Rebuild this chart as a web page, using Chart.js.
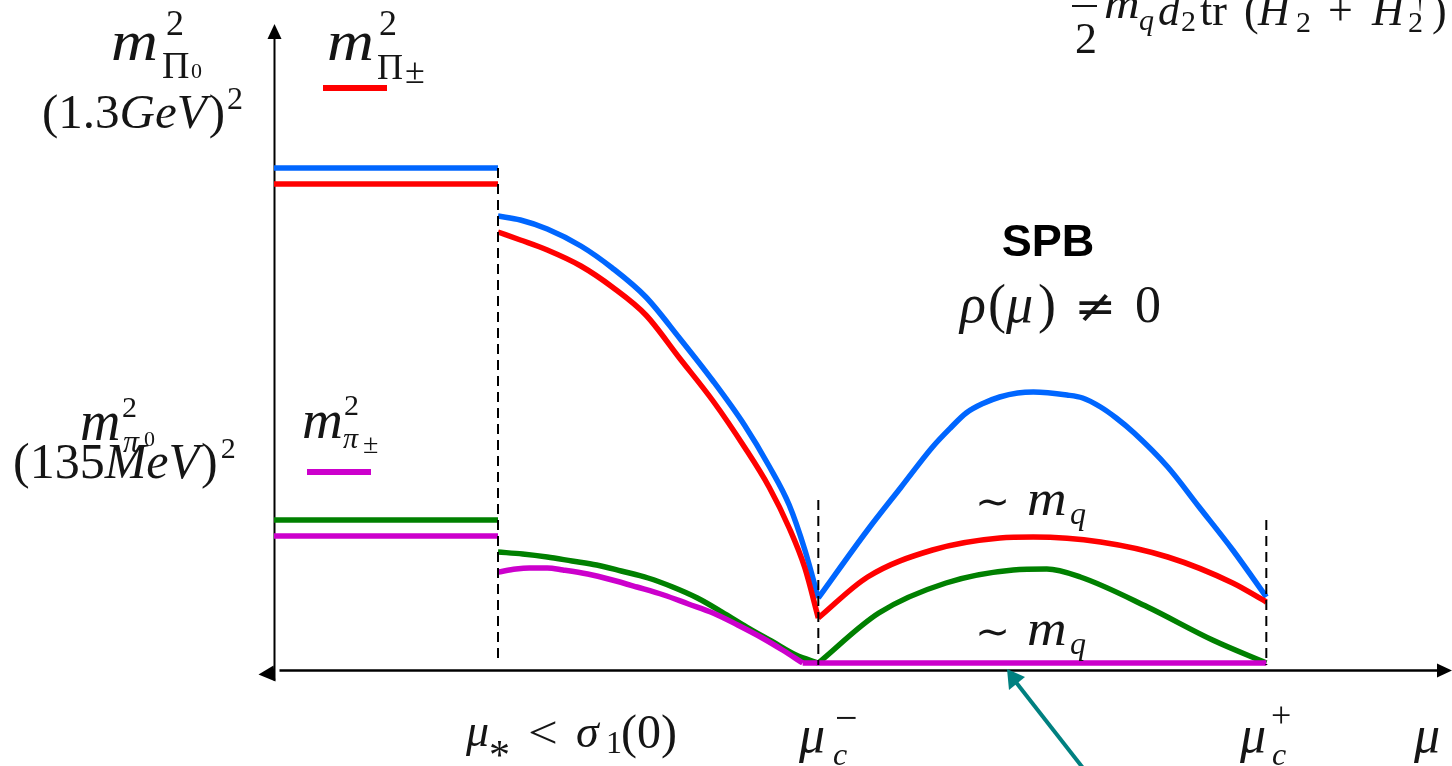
<!DOCTYPE html>
<html>
<head>
<meta charset="utf-8">
<script src="https://cdn.jsdelivr.net/npm/chart.js@4.4.1/dist/chart.umd.min.js"></script>
<style>
  html, body { margin: 0; padding: 0; background: #fff; }
  canvas { display: block; }
</style>
</head>
<body>
<canvas id="c" width="1452" height="766"></canvas>
<script>
// 質量譜示意圖：mu 軸上的分段曲線
// x 單位：mu_* = 1；y 單位：任意 (m^2)

var muStar = 1.0, muCm = 2.43, muCp = 4.43;

// 區段一：mu < mu_* 的平台
var flatX = [0, muStar];
var blueFlatY = 4.95, redFlatY = 4.79, greenFlatY = 1.43, magentaFlatY = 1.27;

// 區段二：mu_* ~ mu_c^-
var midX = [1.00, 1.10, 1.22, 1.37, 1.51, 1.66, 1.81, 1.96, 2.10, 2.21, 2.30, 2.37, 2.43];
var blueMidY = [4.47, 4.43, 4.34, 4.17, 3.95, 3.66, 3.25, 2.82, 2.38, 1.97, 1.58, 1.13, 0.65];
var redMidY = [4.31, 4.23, 4.13, 3.97, 3.76, 3.48, 3.05, 2.62, 2.16, 1.76, 1.35, 0.95, 0.45];
var greenMidX = [1.00, 1.11, 1.22, 1.33, 1.44, 1.55, 1.67, 1.78, 1.89, 2.00, 2.11, 2.22, 2.33, 2.43];
var greenMidY = [1.11, 1.09, 1.06, 1.02, 0.98, 0.92, 0.85, 0.76, 0.65, 0.51, 0.36, 0.22, 0.08, 0.00];
var magentaMidX = [1.00, 1.08, 1.14, 1.22, 1.29, 1.40, 1.51, 1.62, 1.74, 1.85, 1.96, 2.07, 2.18, 2.27, 2.36];
var magentaMidY = [0.91, 0.94, 0.95, 0.95, 0.93, 0.89, 0.83, 0.76, 0.68, 0.59, 0.50, 0.38, 0.25, 0.13, 0.00];

// 區段三：mu_c^- ~ mu_c^+ (SPB)
var blueSpbX = [2.43, 2.65, 2.80, 2.94, 3.02, 3.09, 3.17, 3.24, 3.32, 3.39, 3.54, 3.61, 3.69, 3.76, 3.84, 3.99, 4.13, 4.28, 4.43];
var blueSpbY = [0.65, 1.33, 1.76, 2.16, 2.35, 2.50, 2.60, 2.66, 2.70, 2.71, 2.68, 2.65, 2.56, 2.45, 2.30, 1.96, 1.56, 1.13, 0.66];
var redSpbX = [2.43, 2.65, 2.94, 3.24, 3.39, 3.69, 3.99, 4.28, 4.43];
var redSpbY = [0.45, 0.86, 1.13, 1.25, 1.26, 1.21, 1.06, 0.80, 0.61];
var greenSpbX = [2.43, 2.70, 3.00, 3.30, 3.45, 3.60, 3.90, 4.19, 4.43];
var greenSpbY = [0.00, 0.50, 0.80, 0.93, 0.94, 0.86, 0.56, 0.23, 0.00];
var magentaSpbX = [2.36, 4.43];
var magentaSpbY = [0.00, 0.00];

// 虛線分界
var dashX = [muStar, muCm, muCp];
var dashTop = [4.95, 1.63, 1.43];
var dashBottom = [0.05, -0.02, -0.02];

var BLUE = '#0066ff', RED = '#ff0000', GREEN = '#008000', MAGENTA = '#cc00cc', TEAL = '#008080';
var INK = '#151515';
var SERIF = "'Liberation Serif', 'DejaVu Serif', serif";
var SANS = "'Liberation Sans', Arial, sans-serif";
var DJ = "'DejaVu Sans', sans-serif";

function zip(xs, ys) {
  return xs.map(function(x, i) { return { x: x, y: ys[i] }; });
}
function flat(y) {
  return flatX.map(function(x) { return { x: x, y: y }; });
}

function seg(data, color, order, curved) {
  return {
    data: data,
    borderColor: color,
    borderWidth: 5.5,
    pointRadius: 0,
    fill: false,
    order: order,
    borderCapStyle: 'butt',
    borderJoinStyle: 'round',
    cubicInterpolationMode: curved ? 'monotone' : 'default',
    tension: 0
  };
}

var datasets = [];
dashX.forEach(function(x, i) {
  datasets.push({
    data: [{ x: x, y: dashTop[i] }, { x: x, y: dashBottom[i] }],
    borderColor: '#000',
    borderWidth: 2,
    borderDash: [10, 6],
    pointRadius: 0,
    order: 0
  });
});
datasets.push(seg(flat(magentaFlatY), MAGENTA, 1));
datasets.push(seg(zip(magentaMidX, magentaMidY), MAGENTA, 1, true));
datasets.push(seg(zip(magentaSpbX, magentaSpbY), MAGENTA, 1));
datasets.push(seg(flat(greenFlatY), GREEN, 2));
datasets.push(seg(zip(greenMidX, greenMidY), GREEN, 2, true));
datasets.push(seg(zip(greenSpbX, greenSpbY), GREEN, 2, true));
datasets.push(seg(flat(redFlatY), RED, 3));
datasets.push(seg(zip(midX, redMidY), RED, 3, true));
datasets.push(seg(zip(redSpbX, redSpbY), RED, 3, true));
datasets.push(seg(flat(blueFlatY), BLUE, 4));
datasets.push(seg(zip(midX, blueMidY), BLUE, 4, true));
datasets.push(seg(zip(blueSpbX, blueSpbY), BLUE, 4, true));

// 單段文字；sx 為水平拉伸（模仿 Computer Modern 較寬的字形）
function t(ctx, s, x, y, size, style, family, sx) {
  ctx.font = (style || 'normal') + ' ' + size + 'px ' + (family || SERIF);
  if (sx && sx !== 1) {
    ctx.save();
    ctx.translate(x, y);
    ctx.scale(sx, 1);
    ctx.fillText(s, 0, 0);
    ctx.restore();
  } else {
    ctx.fillText(s, x, y);
  }
}

// 連續排版：[文字, 字級, 樣式, dx, dy]
function flow(ctx, x, y, parts) {
  parts.forEach(function(p) {
    x += p[3] || 0;
    ctx.font = (p[2] || 'normal') + ' ' + p[1] + 'px ' + SERIF;
    ctx.fillText(p[0], x, y + (p[4] || 0));
    x += ctx.measureText(p[0]).width;
  });
}

function tri(ctx, a, b, c) {
  ctx.beginPath();
  ctx.moveTo(a[0], a[1]); ctx.lineTo(b[0], b[1]); ctx.lineTo(c[0], c[1]);
  ctx.closePath();
  ctx.fill();
}

// 座標軸、箭頭與 LaTeX 風格文字
var decor = {
  id: 'decor',
  beforeDatasetsDraw: function(chart) {
    var ctx = chart.ctx;
    var ox = Math.round(chart.scales.x.getPixelForValue(0)) + 0.5;
    var oy = Math.round(chart.scales.y.getPixelForValue(-0.065)) + 0.5;
    ctx.save();
    ctx.strokeStyle = '#000';
    ctx.fillStyle = '#000';
    ctx.lineWidth = 2;
    ctx.beginPath();
    ctx.moveTo(ox, 36); ctx.lineTo(ox, oy + 10);
    ctx.stroke();
    ctx.lineWidth = 2.5;
    ctx.beginPath();
    ctx.moveTo(ox + 5, oy); ctx.lineTo(1440, oy);
    ctx.stroke();
    tri(ctx, [ox - 7, 39], [ox + 7, 39], [ox, 24]);
    tri(ctx, [1437, oy - 7], [1437, oy + 7], [1452, oy]);
    tri(ctx, [ox - 16, oy + 4], [ox - 1, oy - 5], [ox + 1, oy + 11]);
    ctx.restore();
  },
  afterDraw: function(chart) {
    var ctx = chart.ctx;
    ctx.save();
    ctx.textBaseline = 'alphabetic';
    ctx.textAlign = 'left';

    // 圖例色塊
    ctx.fillStyle = RED;
    ctx.fillRect(323, 85, 64, 6);
    ctx.fillStyle = MAGENTA;
    ctx.fillRect(307, 469, 64, 6);

    ctx.fillStyle = INK;
    // m^2_{Pi_0}, (1.3GeV)^2
    t(ctx, 'm', 111, 60, 58, 'italic', SERIF, 1.12);
    t(ctx, '2', 166, 35, 36);
    t(ctx, 'Π', 162, 78, 38);
    t(ctx, '0', 191, 78, 22);
    flow(ctx, 42, 128, [['(1.3', 49], ['GeV', 49, 'italic'], [')', 49, 'normal', 2], ['2', 32, 'normal', 2, -19]]);

    // m^2_{Pi_pm}
    t(ctx, 'm', 327, 60, 58, 'italic', SERIF, 1.12);
    t(ctx, '2', 379, 35, 36);
    t(ctx, 'Π', 377, 79, 36);
    t(ctx, '±', 405, 83, 36);

    // m^2_{pi_0}, (135MeV)^2（原圖重疊）
    flow(ctx, 13, 478, [['(135', 50], ['MeV', 50, 'italic'], [')', 50, 'normal', 2], ['2', 30, 'normal', 3, -20]]);
    t(ctx, 'm', 80, 440, 56, 'italic', SERIF, 1.0);
    t(ctx, '2', 122, 417, 30);
    t(ctx, 'π', 123, 452, 32, 'italic');
    t(ctx, '0', 144, 446, 22);

    // m^2_{pi_pm}
    t(ctx, 'm', 302, 438, 54, 'italic', SERIF, 1.05);
    t(ctx, '2', 344, 415, 30);
    t(ctx, 'π', 343, 448, 30, 'italic');
    t(ctx, '±', 363, 453, 28);

    // 右上角被截斷的式子
    ctx.fillRect(1072, 5, 25, 2);
    t(ctx, '2', 1075, 53, 44);
    t(ctx, 'm', 1104, 18, 44, 'italic', SERIF, 1.12);
    t(ctx, 'q', 1139, 30, 30, 'italic');
    t(ctx, 'd', 1158, 25, 44, 'italic');
    t(ctx, '2', 1181, 31, 30);
    t(ctx, 'tr', 1200, 25, 44);
    t(ctx, '(', 1244, 25, 44);
    t(ctx, 'H', 1258, 25, 44, 'italic');
    t(ctx, '2', 1296, 32, 30);
    t(ctx, '+', 1328, 25, 44);
    t(ctx, 'H', 1372, 25, 44, 'italic');
    t(ctx, '2', 1408, 32, 30);
    t(ctx, '†', 1414, 8, 24);
    t(ctx, ')', 1432, 25, 44);

    // SPB
    ctx.fillStyle = '#000';
    ctx.textAlign = 'center';
    t(ctx, 'SPB', 1048, 256, 45, 'bold', SANS);
    ctx.textAlign = 'left';
    ctx.fillStyle = INK;
    t(ctx, 'ρ', 960, 322, 54, 'italic');
    t(ctx, '(', 988, 322, 54);
    t(ctx, 'μ', 1006, 322, 54, 'italic');
    t(ctx, ')', 1038, 322, 54);
    t(ctx, '≠', 1074, 322, 46, 'normal', DJ, 1.1);
    t(ctx, '0', 1135, 322, 52);

    // ~ m_q
    [515, 645].forEach(function(by) {
      t(ctx, '∼', 975, by, 40, 'normal', DJ, 1.05);
      t(ctx, 'm', 1027, by, 50, 'italic', SERIF, 1.1);
      t(ctx, 'q', 1070, by + 9, 32, 'italic');
    });

    // x 軸標籤
    t(ctx, 'μ', 466, 746, 46, 'italic');
    t(ctx, '*', 489, 769, 42);
    t(ctx, '<', 528, 748, 46, 'normal', SERIF, 1.15);
    t(ctx, 'σ', 576, 747, 46, 'italic');
    t(ctx, '1', 606, 753, 32);
    t(ctx, '(0)', 621, 748, 48);

    t(ctx, 'μ', 799, 752, 52, 'italic');
    t(ctx, '−', 835, 731, 40);
    t(ctx, 'c', 833, 765, 32, 'italic');

    t(ctx, 'μ', 1240, 752, 52, 'italic');
    t(ctx, '+', 1271, 727, 36);
    t(ctx, 'c', 1272, 765, 32, 'italic');

    t(ctx, 'μ', 1414, 752, 52, 'italic');

    // 青色箭頭
    ctx.strokeStyle = TEAL;
    ctx.fillStyle = TEAL;
    ctx.lineWidth = 4;
    ctx.beginPath();
    ctx.moveTo(1083, 768);
    ctx.lineTo(1015, 681);
    ctx.stroke();
    tri(ctx, [1007, 669], [1009, 690], [1025, 677]);

    ctx.restore();
  }
};

new Chart(document.getElementById('c'), {
  type: 'line',
  data: { datasets: datasets },
  options: {
    responsive: false,
    animation: false,
    devicePixelRatio: 1,
    layout: { padding: 0 },
    plugins: { legend: { display: false }, tooltip: { enabled: false } },
    scales: {
      x: { type: 'linear', min: -274 / 224, max: (1452 - 274) / 224, display: false },
      y: { type: 'linear', min: -1.03, max: 6.63, display: false }
    }
  },
  plugins: [decor]
});
</script>
</body>
</html>
